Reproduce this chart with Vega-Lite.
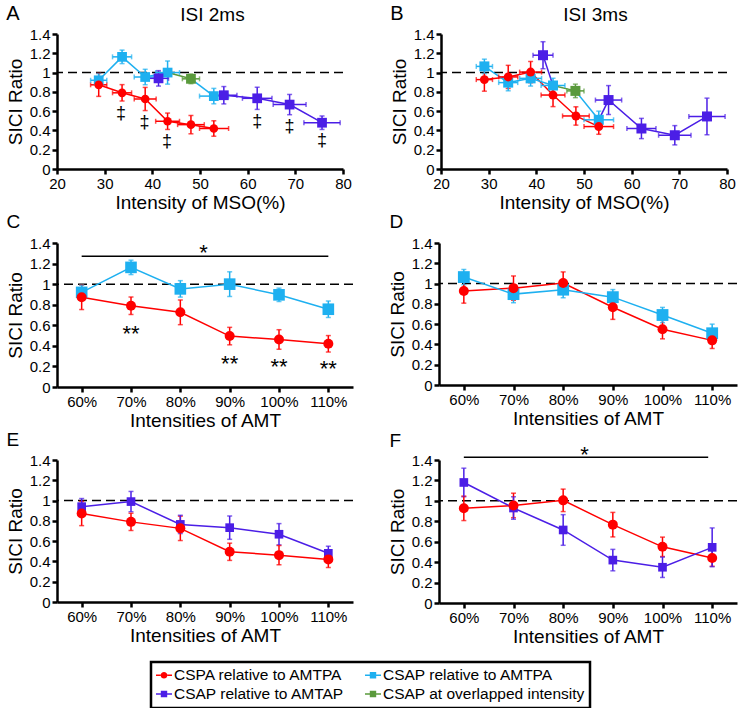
{
"$schema": "https://vega.github.io/schema/vega-lite/v6.json",
"padding": {"left": 6, "top": 4, "right": 4, "bottom": 4},
"datasets": {
"pts": [
{"p":"A","s":"R","x":28.75,"y":0.873,"ylo":0.753,"yhi":0.993,"xlo":27.05,"xhi":30.45},
{"p":"A","s":"R","x":33.65,"y":0.79,"ylo":0.705,"yhi":0.875,"xlo":31.65,"xhi":35.65},
{"p":"A","s":"R","x":38.5,"y":0.726,"ylo":0.606,"yhi":0.846,"xlo":36.2,"xhi":40.8},
{"p":"A","s":"R","x":43.2,"y":0.495,"ylo":0.41,"yhi":0.58,"xlo":40.7,"xhi":45.7},
{"p":"A","s":"R","x":48.1,"y":0.46,"ylo":0.365,"yhi":0.555,"xlo":45.3,"xhi":50.9},
{"p":"A","s":"R","x":52.9,"y":0.42,"ylo":0.34,"yhi":0.5,"xlo":49.9,"xhi":56.0},
{"p":"A","s":"C","x":28.75,"y":0.92,"ylo":0.85,"yhi":0.99,"xlo":27.05,"xhi":30.45},
{"p":"A","s":"C","x":33.65,"y":1.163,"ylo":1.093,"yhi":1.233,"xlo":31.65,"xhi":35.65},
{"p":"A","s":"C","x":38.5,"y":0.954,"ylo":0.874,"yhi":1.034,"xlo":36.2,"xhi":40.8},
{"p":"A","s":"C","x":43.2,"y":1.0,"ylo":0.88,"yhi":1.12,"xlo":40.7,"xhi":45.7},
{"p":"A","s":"C","x":52.9,"y":0.756,"ylo":0.676,"yhi":0.836,"xlo":49.9,"xhi":56.0},
{"p":"A","s":"G","x":48.1,"y":0.935,"ylo":0.885,"yhi":0.985,"xlo":46.3,"xhi":49.9},
{"p":"A","s":"P","x":41.3,"y":0.94,"ylo":0.86,"yhi":1.02,"xlo":39.2,"xhi":43.4},
{"p":"A","s":"P","x":55.0,"y":0.765,"ylo":0.675,"yhi":0.855,"xlo":52.25,"xhi":57.75},
{"p":"A","s":"P","x":62.0,"y":0.733,"ylo":0.618,"yhi":0.848,"xlo":58.9,"xhi":65.1},
{"p":"A","s":"P","x":68.8,"y":0.668,"ylo":0.563,"yhi":0.773,"xlo":65.35,"xhi":72.25},
{"p":"A","s":"P","x":75.6,"y":0.48,"ylo":0.41,"yhi":0.55,"xlo":71.8,"xhi":79.4},
{"p":"B","s":"R","x":29.1,"y":0.927,"ylo":0.807,"yhi":1.047,"xlo":27.4,"xhi":30.8},
{"p":"B","s":"R","x":34.1,"y":0.955,"ylo":0.835,"yhi":1.075,"xlo":32.1,"xhi":36.1},
{"p":"B","s":"R","x":38.8,"y":1.005,"ylo":0.895,"yhi":1.115,"xlo":36.5,"xhi":41.1},
{"p":"B","s":"R","x":43.5,"y":0.767,"ylo":0.647,"yhi":0.887,"xlo":41.0,"xhi":46.0},
{"p":"B","s":"R","x":48.3,"y":0.55,"ylo":0.455,"yhi":0.645,"xlo":45.5,"xhi":51.1},
{"p":"B","s":"R","x":53.1,"y":0.44,"ylo":0.36,"yhi":0.52,"xlo":50.0,"xhi":56.2},
{"p":"B","s":"C","x":29.1,"y":1.064,"ylo":0.989,"yhi":1.139,"xlo":27.4,"xhi":30.8},
{"p":"B","s":"C","x":34.1,"y":0.896,"ylo":0.811,"yhi":0.981,"xlo":32.1,"xhi":36.1},
{"p":"B","s":"C","x":38.8,"y":0.94,"ylo":0.86,"yhi":1.02,"xlo":36.5,"xhi":41.1},
{"p":"B","s":"C","x":43.5,"y":0.866,"ylo":0.791,"yhi":0.941,"xlo":41.0,"xhi":46.0},
{"p":"B","s":"C","x":53.1,"y":0.51,"ylo":0.42,"yhi":0.6,"xlo":50.0,"xhi":56.2},
{"p":"B","s":"G","x":48.2,"y":0.81,"ylo":0.74,"yhi":0.88,"xlo":46.4,"xhi":50.0},
{"p":"B","s":"P","x":41.4,"y":1.18,"ylo":1.04,"yhi":1.32,"xlo":39.3,"xhi":43.5},
{"p":"B","s":"P","x":55.15,"y":0.715,"ylo":0.565,"yhi":0.865,"xlo":52.4,"xhi":57.9},
{"p":"B","s":"P","x":62.05,"y":0.42,"ylo":0.315,"yhi":0.525,"xlo":59.0,"xhi":65.1},
{"p":"B","s":"P","x":69.05,"y":0.35,"ylo":0.25,"yhi":0.45,"xlo":65.65,"xhi":72.45},
{"p":"B","s":"P","x":75.8,"y":0.545,"ylo":0.355,"yhi":0.735,"xlo":72.0,"xhi":79.6},
{"p":"C","s":"R","x":60,"y":0.873,"ylo":0.753,"yhi":0.993},
{"p":"C","s":"R","x":70,"y":0.79,"ylo":0.705,"yhi":0.875},
{"p":"C","s":"R","x":80,"y":0.726,"ylo":0.606,"yhi":0.846},
{"p":"C","s":"R","x":90,"y":0.495,"ylo":0.41,"yhi":0.58},
{"p":"C","s":"R","x":100,"y":0.462,"ylo":0.367,"yhi":0.557},
{"p":"C","s":"R","x":110,"y":0.42,"ylo":0.34,"yhi":0.5},
{"p":"C","s":"C","x":60,"y":0.92,"ylo":0.85,"yhi":0.99},
{"p":"C","s":"C","x":70,"y":1.163,"ylo":1.093,"yhi":1.233},
{"p":"C","s":"C","x":80,"y":0.954,"ylo":0.874,"yhi":1.034},
{"p":"C","s":"C","x":90,"y":1.0,"ylo":0.88,"yhi":1.12},
{"p":"C","s":"C","x":100,"y":0.896,"ylo":0.831,"yhi":0.961},
{"p":"C","s":"C","x":110,"y":0.756,"ylo":0.676,"yhi":0.836},
{"p":"D","s":"R","x":60,"y":0.927,"ylo":0.807,"yhi":1.047},
{"p":"D","s":"R","x":70,"y":0.955,"ylo":0.835,"yhi":1.075},
{"p":"D","s":"R","x":80,"y":1.005,"ylo":0.895,"yhi":1.115},
{"p":"D","s":"R","x":90,"y":0.767,"ylo":0.647,"yhi":0.887},
{"p":"D","s":"R","x":100,"y":0.55,"ylo":0.455,"yhi":0.645},
{"p":"D","s":"R","x":110,"y":0.44,"ylo":0.36,"yhi":0.52},
{"p":"D","s":"C","x":60,"y":1.064,"ylo":0.989,"yhi":1.139},
{"p":"D","s":"C","x":70,"y":0.896,"ylo":0.811,"yhi":0.981},
{"p":"D","s":"C","x":80,"y":0.94,"ylo":0.86,"yhi":1.02},
{"p":"D","s":"C","x":90,"y":0.866,"ylo":0.791,"yhi":0.941},
{"p":"D","s":"C","x":100,"y":0.69,"ylo":0.615,"yhi":0.765},
{"p":"D","s":"C","x":110,"y":0.51,"ylo":0.42,"yhi":0.6},
{"p":"E","s":"R","x":60,"y":0.873,"ylo":0.753,"yhi":0.993},
{"p":"E","s":"R","x":70,"y":0.79,"ylo":0.705,"yhi":0.875},
{"p":"E","s":"R","x":80,"y":0.726,"ylo":0.606,"yhi":0.846},
{"p":"E","s":"R","x":90,"y":0.495,"ylo":0.41,"yhi":0.58},
{"p":"E","s":"R","x":100,"y":0.462,"ylo":0.367,"yhi":0.557},
{"p":"E","s":"R","x":110,"y":0.42,"ylo":0.34,"yhi":0.5},
{"p":"E","s":"P","x":60,"y":0.94,"ylo":0.86,"yhi":1.02},
{"p":"E","s":"P","x":70,"y":0.99,"ylo":0.89,"yhi":1.09},
{"p":"E","s":"P","x":80,"y":0.765,"ylo":0.675,"yhi":0.855},
{"p":"E","s":"P","x":90,"y":0.733,"ylo":0.618,"yhi":0.848},
{"p":"E","s":"P","x":100,"y":0.668,"ylo":0.563,"yhi":0.773},
{"p":"E","s":"P","x":110,"y":0.48,"ylo":0.41,"yhi":0.55},
{"p":"F","s":"R","x":60,"y":0.927,"ylo":0.807,"yhi":1.047},
{"p":"F","s":"R","x":70,"y":0.955,"ylo":0.835,"yhi":1.075},
{"p":"F","s":"R","x":80,"y":1.005,"ylo":0.895,"yhi":1.115},
{"p":"F","s":"R","x":90,"y":0.767,"ylo":0.647,"yhi":0.887},
{"p":"F","s":"R","x":100,"y":0.55,"ylo":0.455,"yhi":0.645},
{"p":"F","s":"R","x":110,"y":0.44,"ylo":0.36,"yhi":0.52},
{"p":"F","s":"P","x":60,"y":1.18,"ylo":1.04,"yhi":1.32},
{"p":"F","s":"P","x":70,"y":0.93,"ylo":0.82,"yhi":1.04},
{"p":"F","s":"P","x":80,"y":0.715,"ylo":0.565,"yhi":0.865},
{"p":"F","s":"P","x":90,"y":0.42,"ylo":0.315,"yhi":0.525},
{"p":"F","s":"P","x":100,"y":0.35,"ylo":0.25,"yhi":0.45},
{"p":"F","s":"P","x":110,"y":0.545,"ylo":0.355,"yhi":0.735}
],
"ln": [
{"p":"A","s":"R","g":"r","x":28.75,"y":0.873},{"p":"A","s":"R","g":"r","x":33.65,"y":0.79},{"p":"A","s":"R","g":"r","x":38.5,"y":0.726},{"p":"A","s":"R","g":"r","x":43.2,"y":0.495},{"p":"A","s":"R","g":"r","x":48.1,"y":0.46},{"p":"A","s":"R","g":"r","x":52.9,"y":0.42},
{"p":"A","s":"C","g":"c1","x":28.75,"y":0.92},{"p":"A","s":"C","g":"c1","x":33.65,"y":1.163},{"p":"A","s":"C","g":"c1","x":38.5,"y":0.954},{"p":"A","s":"C","g":"c1","x":43.2,"y":1.0},
{"p":"A","s":"C","g":"c2","x":48.1,"y":0.935},{"p":"A","s":"C","g":"c2","x":52.9,"y":0.756},
{"p":"A","s":"G","g":"g","x":43.2,"y":1.0},{"p":"A","s":"G","g":"g","x":48.1,"y":0.935},
{"p":"A","s":"P","g":"p1","x":41.3,"y":0.94},{"p":"A","s":"P","g":"p1","x":43.2,"y":1.0},
{"p":"A","s":"P","g":"p2","x":52.9,"y":0.756},{"p":"A","s":"P","g":"p2","x":55.0,"y":0.765},{"p":"A","s":"P","g":"p2","x":62.0,"y":0.733},{"p":"A","s":"P","g":"p2","x":68.8,"y":0.668},{"p":"A","s":"P","g":"p2","x":75.6,"y":0.48},
{"p":"B","s":"R","g":"r","x":29.1,"y":0.927},{"p":"B","s":"R","g":"r","x":34.1,"y":0.955},{"p":"B","s":"R","g":"r","x":38.8,"y":1.005},{"p":"B","s":"R","g":"r","x":43.5,"y":0.767},{"p":"B","s":"R","g":"r","x":48.3,"y":0.55},{"p":"B","s":"R","g":"r","x":53.1,"y":0.44},
{"p":"B","s":"C","g":"c1","x":29.1,"y":1.064},{"p":"B","s":"C","g":"c1","x":34.1,"y":0.896},{"p":"B","s":"C","g":"c1","x":38.8,"y":0.94},{"p":"B","s":"C","g":"c1","x":43.5,"y":0.866},
{"p":"B","s":"C","g":"c2","x":48.2,"y":0.81},{"p":"B","s":"C","g":"c2","x":53.1,"y":0.51},
{"p":"B","s":"G","g":"g","x":43.5,"y":0.866},{"p":"B","s":"G","g":"g","x":48.2,"y":0.81},
{"p":"B","s":"P","g":"p1","x":41.4,"y":1.18},{"p":"B","s":"P","g":"p1","x":43.5,"y":0.866},
{"p":"B","s":"P","g":"p2","x":53.1,"y":0.51},{"p":"B","s":"P","g":"p2","x":55.15,"y":0.715},{"p":"B","s":"P","g":"p2","x":62.05,"y":0.42},{"p":"B","s":"P","g":"p2","x":69.05,"y":0.35},{"p":"B","s":"P","g":"p2","x":75.8,"y":0.545}
],
"ann": [
{"p":"A","x":33.45,"y":0.566,"t":"‡"},{"p":"A","x":38.35,"y":0.479,"t":"‡"},{"p":"A","x":43.1,"y":0.281,"t":"‡"},{"p":"A","x":62.0,"y":0.49,"t":"‡"},{"p":"A","x":68.8,"y":0.438,"t":"‡"},{"p":"A","x":75.6,"y":0.288,"t":"‡"},
{"p":"C","x":70,"y":0.577,"t":"**"},{"p":"C","x":90,"y":0.283,"t":"**"},{"p":"C","x":100,"y":0.248,"t":"**"},{"p":"C","x":110,"y":0.231,"t":"**"},{"p":"C","x":84.7,"y":1.365,"t":"*"},
{"p":"F","x":84.3,"y":1.508,"t":"*"}
],
"bars": [
{"p":"C","x":60,"x2":110,"y":1.27},
{"p":"F","x":60,"x2":109.2,"y":1.426}
],
"ref": [{"v":1}]
},
"vconcat": [
{"spacing": 38, "hconcat": [
{"width": 286, "height": 135, "title": {"text": "A", "offset": -19},
 "resolve": {"axis": {"x": "independent"}},
 "layer": [
  {"data": {"name": "ref"}, "mark": {"type": "rule", "strokeDash": [9, 5], "strokeWidth": 1.5, "color": "black"},
   "encoding": {"y": {"field": "v", "type": "quantitative", "scale": {"domain": [0, 1.4], "nice": false}, "axis": {"title": "SICI Ratio", "values": [0,0.2,0.4,0.6,0.8,1,1.2,1.4], "tickCount": 10, "labelOverlap": false, "labelExpr": "datum.value == 0 ? '0' : datum.value == 1 ? '1' : format(datum.value, '.1f')"}}}},
  {"data": {"name": "ln"}, "transform": [{"filter": "datum.p == 'A'"}], "mark": {"type": "line", "strokeWidth": 1.5},
   "encoding": {"x": {"field": "x", "type": "quantitative", "scale": {"domain": [20, 80], "nice": false}, "axis": {"title": "Intensity of MSO(%)", "values": [20,30,40,50,60,70,80], "tickCount": 10}},
    "y": {"field": "y", "type": "quantitative", "title": "SICI Ratio"}, "detail": {"field": "g"},
    "color": {"field": "s", "type": "nominal", "scale": {"domain": ["R","P","C","G"], "range": ["#ff0000","#4b1ee6","#1eb0f0","#5a9a3c"]}, "legend": null}}},
  {"data": {"name": "pts"}, "transform": [{"filter": "datum.p == 'A'"}], "mark": {"type": "errorbar", "ticks": true, "size": 5, "thickness": 1.5},
   "encoding": {"x": {"field": "x", "type": "quantitative", "axis": null}, "y": {"field": "ylo", "type": "quantitative", "title": "SICI Ratio"}, "y2": {"field": "yhi"},
    "color": {"field": "s", "type": "nominal", "scale": {"domain": ["R","P","C","G"], "range": ["#ff0000","#4b1ee6","#1eb0f0","#5a9a3c"]}, "legend": null}}},
  {"data": {"name": "pts"}, "transform": [{"filter": "datum.p == 'A'"}], "mark": {"type": "errorbar", "ticks": true, "size": 5, "thickness": 1.5},
   "encoding": {"x": {"field": "xlo", "type": "quantitative", "axis": {"orient": "top", "title": "ISI 2ms", "labels": false, "ticks": false, "domain": false, "titlePadding": 10, "titleX": 155}}, "x2": {"field": "xhi"}, "y": {"field": "y", "type": "quantitative", "title": "SICI Ratio"},
    "color": {"field": "s", "type": "nominal", "scale": {"domain": ["R","P","C","G"], "range": ["#ff0000","#4b1ee6","#1eb0f0","#5a9a3c"]}, "legend": null}}},
  {"data": {"name": "pts"}, "transform": [{"filter": "datum.p == 'A' && datum.s != 'R'"}], "mark": {"type": "square", "size": 95, "opacity": 1},
   "encoding": {"x": {"field": "x", "type": "quantitative", "axis": null}, "y": {"field": "y", "type": "quantitative", "title": "SICI Ratio"},
    "color": {"field": "s", "type": "nominal", "scale": {"domain": ["R","P","C","G"], "range": ["#ff0000","#4b1ee6","#1eb0f0","#5a9a3c"]}, "legend": null}}},
  {"data": {"name": "pts"}, "transform": [{"filter": "datum.p == 'A' && datum.s == 'R'"}], "mark": {"type": "circle", "size": 75, "opacity": 1},
   "encoding": {"x": {"field": "x", "type": "quantitative", "axis": null}, "y": {"field": "y", "type": "quantitative", "title": "SICI Ratio"},
    "color": {"field": "s", "type": "nominal", "scale": {"domain": ["R","P","C","G"], "range": ["#ff0000","#4b1ee6","#1eb0f0","#5a9a3c"]}, "legend": null}}},
  {"data": {"name": "ann"}, "transform": [{"filter": "datum.p == 'A'"}], "mark": {"type": "text", "fontSize": 18, "baseline": "middle", "color": "black"},
   "encoding": {"x": {"field": "x", "type": "quantitative", "axis": null}, "y": {"field": "y", "type": "quantitative", "title": "SICI Ratio"}, "text": {"field": "t"}}}
 ]},
{"width": 286, "height": 135, "title": {"text": "B", "offset": -19},
 "resolve": {"axis": {"x": "independent"}},
 "layer": [
  {"data": {"name": "ref"}, "mark": {"type": "rule", "strokeDash": [9, 5], "strokeWidth": 1.5, "color": "black"},
   "encoding": {"y": {"field": "v", "type": "quantitative", "scale": {"domain": [0, 1.4], "nice": false}, "axis": {"title": "SICI Ratio", "values": [0,0.2,0.4,0.6,0.8,1,1.2,1.4], "tickCount": 10, "labelOverlap": false, "labelExpr": "datum.value == 0 ? '0' : datum.value == 1 ? '1' : format(datum.value, '.1f')"}}}},
  {"data": {"name": "ln"}, "transform": [{"filter": "datum.p == 'B'"}], "mark": {"type": "line", "strokeWidth": 1.5},
   "encoding": {"x": {"field": "x", "type": "quantitative", "scale": {"domain": [20, 80], "nice": false}, "axis": {"title": "Intensity of MSO(%)", "values": [20,30,40,50,60,70,80], "tickCount": 10}},
    "y": {"field": "y", "type": "quantitative", "title": "SICI Ratio"}, "detail": {"field": "g"},
    "color": {"field": "s", "type": "nominal", "scale": {"domain": ["R","P","C","G"], "range": ["#ff0000","#4b1ee6","#1eb0f0","#5a9a3c"]}, "legend": null}}},
  {"data": {"name": "pts"}, "transform": [{"filter": "datum.p == 'B'"}], "mark": {"type": "errorbar", "ticks": true, "size": 5, "thickness": 1.5},
   "encoding": {"x": {"field": "x", "type": "quantitative", "axis": null}, "y": {"field": "ylo", "type": "quantitative", "title": "SICI Ratio"}, "y2": {"field": "yhi"},
    "color": {"field": "s", "type": "nominal", "scale": {"domain": ["R","P","C","G"], "range": ["#ff0000","#4b1ee6","#1eb0f0","#5a9a3c"]}, "legend": null}}},
  {"data": {"name": "pts"}, "transform": [{"filter": "datum.p == 'B'"}], "mark": {"type": "errorbar", "ticks": true, "size": 5, "thickness": 1.5},
   "encoding": {"x": {"field": "xlo", "type": "quantitative", "axis": {"orient": "top", "title": "ISI 3ms", "labels": false, "ticks": false, "domain": false, "titlePadding": 10, "titleX": 154}}, "x2": {"field": "xhi"}, "y": {"field": "y", "type": "quantitative", "title": "SICI Ratio"},
    "color": {"field": "s", "type": "nominal", "scale": {"domain": ["R","P","C","G"], "range": ["#ff0000","#4b1ee6","#1eb0f0","#5a9a3c"]}, "legend": null}}},
  {"data": {"name": "pts"}, "transform": [{"filter": "datum.p == 'B' && datum.s != 'R'"}], "mark": {"type": "square", "size": 100, "opacity": 1},
   "encoding": {"x": {"field": "x", "type": "quantitative", "axis": null}, "y": {"field": "y", "type": "quantitative", "title": "SICI Ratio"},
    "color": {"field": "s", "type": "nominal", "scale": {"domain": ["R","P","C","G"], "range": ["#ff0000","#4b1ee6","#1eb0f0","#5a9a3c"]}, "legend": null}}},
  {"data": {"name": "pts"}, "transform": [{"filter": "datum.p == 'B' && datum.s == 'R'"}], "mark": {"type": "circle", "size": 80, "opacity": 1},
   "encoding": {"x": {"field": "x", "type": "quantitative", "axis": null}, "y": {"field": "y", "type": "quantitative", "title": "SICI Ratio"},
    "color": {"field": "s", "type": "nominal", "scale": {"domain": ["R","P","C","G"], "range": ["#ff0000","#4b1ee6","#1eb0f0","#5a9a3c"]}, "legend": null}}}
 ]}
]},
{"spacing": 34, "hconcat": [
{"width": 296, "height": 144,
 "resolve": {"axis": {"x": "independent"}},
 "layer": [
  {"data": {"name": "ref"}, "mark": {"type": "rule", "strokeDash": [9, 5], "strokeWidth": 1.5, "color": "black"},
   "encoding": {"y": {"field": "v", "type": "quantitative", "scale": {"domain": [0, 1.4], "nice": false}, "axis": {"title": "SICI Ratio", "values": [0,0.2,0.4,0.6,0.8,1,1.2,1.4], "tickCount": 10, "labelOverlap": false, "labelExpr": "datum.value == 0 ? '0' : datum.value == 1 ? '1' : format(datum.value, '.1f')"}}}},
  {"data": {"name": "pts"}, "transform": [{"filter": "datum.p == 'C'"}], "mark": {"type": "line", "strokeWidth": 1.5},
   "encoding": {"x": {"field": "x", "type": "quantitative", "scale": {"domain": [55, 115], "nice": false}, "axis": {"title": "Intensities of AMT", "values": [60,70,80,90,100,110], "tickCount": 10, "labelExpr": "datum.value + '%'"}}, "y": {"field": "y", "type": "quantitative", "title": "SICI Ratio"},
    "color": {"field": "s", "type": "nominal", "scale": {"domain": ["R","P","C","G"], "range": ["#ff0000","#4b1ee6","#1eb0f0","#5a9a3c"]}, "legend": null}}},
  {"data": {"name": "bars"}, "transform": [{"filter": "datum.p == 'C'"}], "mark": {"type": "rule", "strokeWidth": 1.5, "color": "black"},
   "encoding": {"x": {"field": "x", "type": "quantitative", "axis": null}, "x2": {"field": "x2"}, "y": {"field": "y", "type": "quantitative", "title": "SICI Ratio"}}},
  {"data": {"name": "pts"}, "transform": [{"filter": "datum.p == 'C'"}], "mark": {"type": "errorbar", "ticks": true, "size": 5, "thickness": 1.5},
   "encoding": {"x": {"field": "x", "type": "quantitative", "axis": {"orient": "top", "title": "C", "labels": false, "ticks": false, "domain": false, "titleX": -51, "titleY": -16, "titleAlign": "left", "titleAnchor": "start", "titleBaseline": "alphabetic", "titleFontSize": 19, "titleAngle": 0}}, "y": {"field": "ylo", "type": "quantitative", "title": "SICI Ratio"}, "y2": {"field": "yhi"},
    "color": {"field": "s", "type": "nominal", "scale": {"domain": ["R","P","C","G"], "range": ["#ff0000","#4b1ee6","#1eb0f0","#5a9a3c"]}, "legend": null}}},
  {"data": {"name": "pts"}, "transform": [{"filter": "datum.p == 'C' && datum.s != 'R'"}], "mark": {"type": "square", "size": 135, "opacity": 1},
   "encoding": {"x": {"field": "x", "type": "quantitative", "axis": null}, "y": {"field": "y", "type": "quantitative", "title": "SICI Ratio"},
    "color": {"field": "s", "type": "nominal", "scale": {"domain": ["R","P","C","G"], "range": ["#ff0000","#4b1ee6","#1eb0f0","#5a9a3c"]}, "legend": null}}},
  {"data": {"name": "pts"}, "transform": [{"filter": "datum.p == 'C' && datum.s == 'R'"}], "mark": {"type": "circle", "size": 100, "opacity": 1},
   "encoding": {"x": {"field": "x", "type": "quantitative", "axis": null}, "y": {"field": "y", "type": "quantitative", "title": "SICI Ratio"},
    "color": {"field": "s", "type": "nominal", "scale": {"domain": ["R","P","C","G"], "range": ["#ff0000","#4b1ee6","#1eb0f0","#5a9a3c"]}, "legend": null}}},
  {"data": {"name": "ann"}, "transform": [{"filter": "datum.p == 'C'"}], "mark": {"type": "text", "fontSize": 22, "baseline": "middle", "dy": 6, "color": "black"},
   "encoding": {"x": {"field": "x", "type": "quantitative", "axis": null}, "y": {"field": "y", "type": "quantitative", "title": "SICI Ratio"}, "text": {"field": "t"}}}
 ]},
{"width": 298, "height": 142,
 "resolve": {"axis": {"x": "independent"}},
 "layer": [
  {"data": {"name": "ref"}, "mark": {"type": "rule", "strokeDash": [9, 5], "strokeWidth": 1.5, "color": "black"},
   "encoding": {"y": {"field": "v", "type": "quantitative", "scale": {"domain": [0, 1.4], "nice": false}, "axis": {"title": "SICI Ratio", "values": [0,0.2,0.4,0.6,0.8,1,1.2,1.4], "tickCount": 10, "labelOverlap": false, "labelExpr": "datum.value == 0 ? '0' : datum.value == 1 ? '1' : format(datum.value, '.1f')"}}}},
  {"data": {"name": "pts"}, "transform": [{"filter": "datum.p == 'D'"}], "mark": {"type": "line", "strokeWidth": 1.5},
   "encoding": {"x": {"field": "x", "type": "quantitative", "scale": {"domain": [55, 115], "nice": false}, "axis": {"title": "Intensities of AMT", "values": [60,70,80,90,100,110], "tickCount": 10, "labelExpr": "datum.value + '%'"}}, "y": {"field": "y", "type": "quantitative", "title": "SICI Ratio"},
    "color": {"field": "s", "type": "nominal", "scale": {"domain": ["R","P","C","G"], "range": ["#ff0000","#4b1ee6","#1eb0f0","#5a9a3c"]}, "legend": null}}},
  {"data": {"name": "pts"}, "transform": [{"filter": "datum.p == 'D'"}], "mark": {"type": "errorbar", "ticks": true, "size": 5, "thickness": 1.5},
   "encoding": {"x": {"field": "x", "type": "quantitative", "axis": {"orient": "top", "title": "D", "labels": false, "ticks": false, "domain": false, "titleX": -50, "titleY": -16, "titleAlign": "left", "titleAnchor": "start", "titleBaseline": "alphabetic", "titleFontSize": 19, "titleAngle": 0}}, "y": {"field": "ylo", "type": "quantitative", "title": "SICI Ratio"}, "y2": {"field": "yhi"},
    "color": {"field": "s", "type": "nominal", "scale": {"domain": ["R","P","C","G"], "range": ["#ff0000","#4b1ee6","#1eb0f0","#5a9a3c"]}, "legend": null}}},
  {"data": {"name": "pts"}, "transform": [{"filter": "datum.p == 'D' && datum.s != 'R'"}], "mark": {"type": "square", "size": 140, "opacity": 1},
   "encoding": {"x": {"field": "x", "type": "quantitative", "axis": null}, "y": {"field": "y", "type": "quantitative", "title": "SICI Ratio"},
    "color": {"field": "s", "type": "nominal", "scale": {"domain": ["R","P","C","G"], "range": ["#ff0000","#4b1ee6","#1eb0f0","#5a9a3c"]}, "legend": null}}},
  {"data": {"name": "pts"}, "transform": [{"filter": "datum.p == 'D' && datum.s == 'R'"}], "mark": {"type": "circle", "size": 100, "opacity": 1},
   "encoding": {"x": {"field": "x", "type": "quantitative", "axis": null}, "y": {"field": "y", "type": "quantitative", "title": "SICI Ratio"},
    "color": {"field": "s", "type": "nominal", "scale": {"domain": ["R","P","C","G"], "range": ["#ff0000","#4b1ee6","#1eb0f0","#5a9a3c"]}, "legend": null}}}
 ]}
]},
{"spacing": 34, "hconcat": [
{"width": 296, "height": 142,
 "resolve": {"axis": {"x": "independent"}},
 "layer": [
  {"data": {"name": "ref"}, "mark": {"type": "rule", "strokeDash": [9, 5], "strokeWidth": 1.5, "color": "black"},
   "encoding": {"y": {"field": "v", "type": "quantitative", "scale": {"domain": [0, 1.4], "nice": false}, "axis": {"title": "SICI Ratio", "values": [0,0.2,0.4,0.6,0.8,1,1.2,1.4], "tickCount": 10, "labelOverlap": false, "labelExpr": "datum.value == 0 ? '0' : datum.value == 1 ? '1' : format(datum.value, '.1f')"}}}},
  {"data": {"name": "pts"}, "transform": [{"filter": "datum.p == 'E'"}], "mark": {"type": "line", "strokeWidth": 1.5},
   "encoding": {"x": {"field": "x", "type": "quantitative", "scale": {"domain": [55, 115], "nice": false}, "axis": {"title": "Intensities of AMT", "values": [60,70,80,90,100,110], "tickCount": 10, "labelExpr": "datum.value + '%'"}}, "y": {"field": "y", "type": "quantitative", "title": "SICI Ratio"},
    "color": {"field": "s", "type": "nominal", "scale": {"domain": ["R","P","C","G"], "range": ["#ff0000","#4b1ee6","#1eb0f0","#5a9a3c"]}, "legend": null}}},
  {"data": {"name": "pts"}, "transform": [{"filter": "datum.p == 'E'"}], "mark": {"type": "errorbar", "ticks": true, "size": 5, "thickness": 1.5},
   "encoding": {"x": {"field": "x", "type": "quantitative", "axis": {"orient": "top", "title": "E", "labels": false, "ticks": false, "domain": false, "titleX": -51, "titleY": -15, "titleAlign": "left", "titleAnchor": "start", "titleBaseline": "alphabetic", "titleFontSize": 19, "titleAngle": 0}}, "y": {"field": "ylo", "type": "quantitative", "title": "SICI Ratio"}, "y2": {"field": "yhi"},
    "color": {"field": "s", "type": "nominal", "scale": {"domain": ["R","P","C","G"], "range": ["#ff0000","#4b1ee6","#1eb0f0","#5a9a3c"]}, "legend": null}}},
  {"data": {"name": "pts"}, "transform": [{"filter": "datum.p == 'E' && datum.s != 'R'"}], "mark": {"type": "square", "size": 75, "opacity": 1},
   "encoding": {"x": {"field": "x", "type": "quantitative", "axis": null}, "y": {"field": "y", "type": "quantitative", "title": "SICI Ratio"},
    "color": {"field": "s", "type": "nominal", "scale": {"domain": ["R","P","C","G"], "range": ["#ff0000","#4b1ee6","#1eb0f0","#5a9a3c"]}, "legend": null}}},
  {"data": {"name": "pts"}, "transform": [{"filter": "datum.p == 'E' && datum.s == 'R'"}], "mark": {"type": "circle", "size": 100, "opacity": 1},
   "encoding": {"x": {"field": "x", "type": "quantitative", "axis": null}, "y": {"field": "y", "type": "quantitative", "title": "SICI Ratio"},
    "color": {"field": "s", "type": "nominal", "scale": {"domain": ["R","P","C","G"], "range": ["#ff0000","#4b1ee6","#1eb0f0","#5a9a3c"]}, "legend": null}}}
 ]},
{"width": 298, "height": 143,
 "resolve": {"axis": {"x": "independent"}},
 "layer": [
  {"data": {"name": "ref"}, "mark": {"type": "rule", "strokeDash": [9, 5], "strokeWidth": 1.5, "color": "black"},
   "encoding": {"y": {"field": "v", "type": "quantitative", "scale": {"domain": [0, 1.4], "nice": false}, "axis": {"title": "SICI Ratio", "values": [0,0.2,0.4,0.6,0.8,1,1.2,1.4], "tickCount": 10, "labelOverlap": false, "labelExpr": "datum.value == 0 ? '0' : datum.value == 1 ? '1' : format(datum.value, '.1f')"}}}},
  {"data": {"name": "pts"}, "transform": [{"filter": "datum.p == 'F'"}], "mark": {"type": "line", "strokeWidth": 1.5},
   "encoding": {"x": {"field": "x", "type": "quantitative", "scale": {"domain": [55, 115], "nice": false}, "axis": {"title": "Intensities of AMT", "values": [60,70,80,90,100,110], "tickCount": 10, "labelExpr": "datum.value + '%'"}}, "y": {"field": "y", "type": "quantitative", "title": "SICI Ratio"},
    "color": {"field": "s", "type": "nominal", "scale": {"domain": ["R","P","C","G"], "range": ["#ff0000","#4b1ee6","#1eb0f0","#5a9a3c"]}, "legend": null}}},
  {"data": {"name": "bars"}, "transform": [{"filter": "datum.p == 'F'"}], "mark": {"type": "rule", "strokeWidth": 1.5, "color": "black"},
   "encoding": {"x": {"field": "x", "type": "quantitative", "axis": null}, "x2": {"field": "x2"}, "y": {"field": "y", "type": "quantitative", "title": "SICI Ratio"}}},
  {"data": {"name": "pts"}, "transform": [{"filter": "datum.p == 'F'"}], "mark": {"type": "errorbar", "ticks": true, "size": 5, "thickness": 1.5},
   "encoding": {"x": {"field": "x", "type": "quantitative", "axis": {"orient": "top", "title": "F", "labels": false, "ticks": false, "domain": false, "titleX": -50, "titleY": -14, "titleAlign": "left", "titleAnchor": "start", "titleBaseline": "alphabetic", "titleFontSize": 19, "titleAngle": 0}}, "y": {"field": "ylo", "type": "quantitative", "title": "SICI Ratio"}, "y2": {"field": "yhi"},
    "color": {"field": "s", "type": "nominal", "scale": {"domain": ["R","P","C","G"], "range": ["#ff0000","#4b1ee6","#1eb0f0","#5a9a3c"]}, "legend": null}}},
  {"data": {"name": "pts"}, "transform": [{"filter": "datum.p == 'F' && datum.s != 'R'"}], "mark": {"type": "square", "size": 75, "opacity": 1},
   "encoding": {"x": {"field": "x", "type": "quantitative", "axis": null}, "y": {"field": "y", "type": "quantitative", "title": "SICI Ratio"},
    "color": {"field": "s", "type": "nominal", "scale": {"domain": ["R","P","C","G"], "range": ["#ff0000","#4b1ee6","#1eb0f0","#5a9a3c"]}, "legend": null}}},
  {"data": {"name": "pts"}, "transform": [{"filter": "datum.p == 'F' && datum.s == 'R'"}], "mark": {"type": "circle", "size": 100, "opacity": 1},
   "encoding": {"x": {"field": "x", "type": "quantitative", "axis": null}, "y": {"field": "y", "type": "quantitative", "title": "SICI Ratio"},
    "color": {"field": "s", "type": "nominal", "scale": {"domain": ["R","P","C","G"], "range": ["#ff0000","#4b1ee6","#1eb0f0","#5a9a3c"]}, "legend": null}}},
  {"data": {"name": "ann"}, "transform": [{"filter": "datum.p == 'F'"}], "mark": {"type": "text", "fontSize": 22, "baseline": "middle", "dy": 6, "color": "black"},
   "encoding": {"x": {"field": "x", "type": "quantitative", "axis": null}, "y": {"field": "y", "type": "quantitative", "title": "SICI Ratio"}, "text": {"field": "t"}}},
  {"data": {"name": "pts"}, "transform": [{"filter": "datum.p == 'F'"}], "mark": {"type": "point", "filled": true, "opacity": 0, "size": 1},
   "encoding": {"x": {"field": "x", "type": "quantitative", "axis": null}, "y": {"field": "y", "type": "quantitative", "title": "SICI Ratio"},
    "fill": {"field": "s", "type": "nominal", "scale": {"domain": ["R","C","P","G"], "range": ["#ff0000","#1eb0f0","#4b1ee6","#5a9a3c"]},
      "legend": {"title": null, "orient": "none", "legendX": 94, "legendY": 628, "direction": "horizontal", "columns": 2, "symbolOpacity": 1, "labelLimit": 0, "labelExpr": "datum.label == 'R' ? 'CSPA relative to AMTPA' : datum.label == 'C' ? 'CSAP relative to AMTPA' : datum.label == 'P' ? 'CSAP relative to AMTAP' : 'CSAP at overlapped intensity'"}},
    "shape": {"field": "s", "type": "nominal", "scale": {"domain": ["R","C","P","G"], "range": [
      "M-1,-0.1H-0.4V0.1H-1Z M0.4,-0.1H1V0.1H0.4Z M-0.42,0A0.42,0.42,0,1,0,0.42,0A0.42,0.42,0,1,0,-0.42,0Z",
      "M-1,-0.1H-0.4V0.1H-1Z M0.4,-0.1H1V0.1H0.4Z M-0.4,-0.4H0.4V0.4H-0.4Z",
      "M-1,-0.1H-0.4V0.1H-1Z M0.4,-0.1H1V0.1H0.4Z M-0.4,-0.4H0.4V0.4H-0.4Z",
      "M-1,-0.1H-0.4V0.1H-1Z M0.4,-0.1H1V0.1H0.4Z M-0.4,-0.4H0.4V0.4H-0.4Z"]},
      "legend": {"title": null, "orient": "none", "legendX": 94, "legendY": 628, "direction": "horizontal", "columns": 2, "symbolOpacity": 1, "labelLimit": 0, "labelExpr": "datum.label == 'R' ? 'CSPA relative to AMTPA' : datum.label == 'C' ? 'CSAP relative to AMTPA' : datum.label == 'P' ? 'CSAP relative to AMTAP' : 'CSAP at overlapped intensity'"}}}}
 ]}
]}
],
"spacing": 0,
"config": {
 "font": "Liberation Sans",
 "view": {"stroke": null},
 "axis": {"domainColor": "black", "domainWidth": 2.5, "tickColor": "black", "tickWidth": 2.5, "tickSize": 5, "labelColor": "black", "labelFontSize": 15, "labelPadding": 2, "labelFlush": false, "labelOverlap": false, "titleColor": "black", "titleFontSize": 19, "titleFontWeight": "normal", "grid": false, "labelFont": "Liberation Sans", "titleFont": "Liberation Sans"},
 "axisY": {"titlePadding": 4},
 "axisX": {"titlePadding": 2},
 "title": {"fontSize": 20, "fontWeight": "normal", "anchor": "start", "frame": "bounds", "color": "black", "font": "Liberation Sans"},
 "legend": {"strokeColor": "black", "strokeWidth": 2.5, "padding": 5, "labelFontSize": 15.5, "labelColor": "black", "labelFont": "Liberation Sans", "symbolSize": 256, "symbolStrokeWidth": 0, "rowPadding": 2, "columnPadding": 20, "labelOffset": 2}
}
}
